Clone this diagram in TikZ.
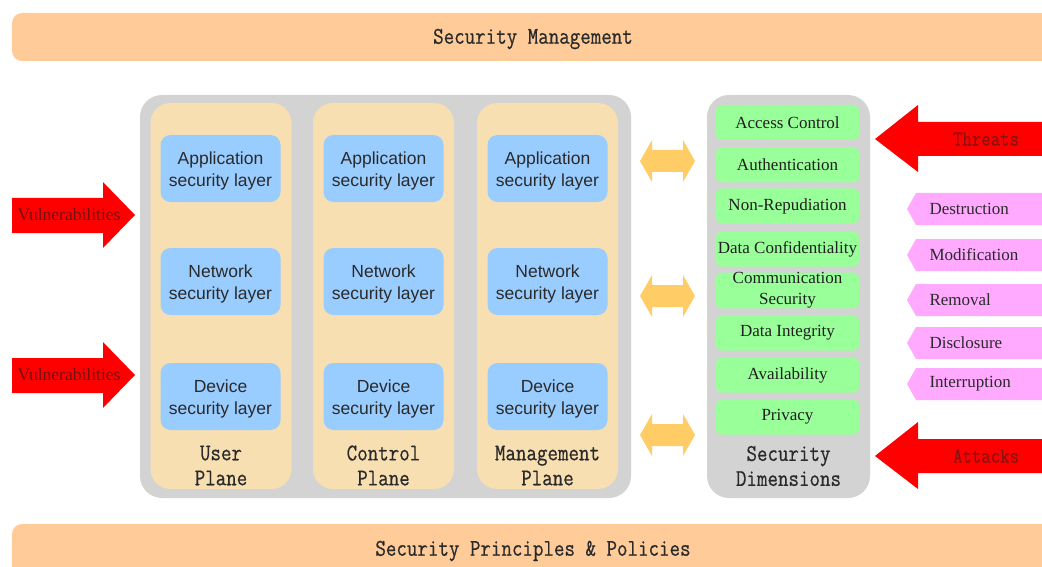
\documentclass[tikz,border=0pt]{standalone}
\usepackage{fontspec}
\setmainfont{Liberation Serif}
\newfontfamily\monofont[FakeStretch=0.85,FakeBold=0.6]{Latin Modern Mono}
\newfontfamily\armsans{Liberation Sans}
\usetikzlibrary{positioning}

\definecolor{barc}{HTML}{FFCC99}
\definecolor{panelgrey}{HTML}{D3D3D3}
\definecolor{planetan}{HTML}{F7DFB2}
\definecolor{layerblue}{HTML}{99CCFF}
\definecolor{dimgreen}{HTML}{99FF99}
\definecolor{threatpink}{HTML}{FFAAFF}
\definecolor{linkorange}{HTML}{FFCC66}
\definecolor{alertred}{HTML}{FF0000}
\definecolor{darkred}{HTML}{8B1010}
\definecolor{inkgrey}{HTML}{2A2A2A}

\tikzset{
  bar/.style={fill=barc, rounded corners=10pt, minimum height=48pt},
  bartext/.style={text=inkgrey, font=\monofont\fontsize{24}{28}\selectfont},
  panel/.style={fill=panelgrey, rounded corners=22pt},
  plane/.style={fill=planetan, rounded corners=20pt, minimum width=141pt, minimum height=386pt},
  layer/.style={fill=layerblue, rounded corners=10pt, minimum width=120pt, minimum height=67pt},
  layertext/.style={align=center, text=inkgrey, font=\armsans\fontsize{17.5}{22}\selectfont, inner sep=0pt},
  dim/.style={fill=dimgreen, rounded corners=6pt, minimum width=143pt, minimum height=35pt,
    align=center, text=black!88, font=\fontsize{17}{21}\selectfont, inner sep=0pt},
  planelabel/.style={align=center, text=inkgrey, font=\monofont\fontsize{24}{25}\selectfont},
  redarrow/.style={fill=alertred},
  arrowtext/.style={text=darkred, font=\monofont\fontsize{21.5}{22}\selectfont},
  vulntext/.style={text=darkred!85!black, font=\fontsize{17.5}{20}\selectfont},
  tag/.style={fill=threatpink},
  tagtext/.style={anchor=west, text=inkgrey, font=\fontsize{17}{20}\selectfont},
  link/.style={fill=linkorange}
}

\begin{document}
\begin{tikzpicture}[x=1pt,y=-1pt]
\useasboundingbox (0,0) rectangle (1042,567);

% management and policy bars
\node[bar, minimum width=1042pt] (mgmt) at (533,37) {};
\node[bartext] (mgmttext) at (533,39) {Security Management};
\node[bar, minimum width=1042pt, minimum height=56pt] (policy) at (533,552) {};
\node[bartext] (policytext) at (533,551) {Security Principles \& Policies};

% planes and their layers
\node[panel, minimum width=491pt, minimum height=403pt] (planes) at (385.5,296.5) {};
\node[plane] (user) at (221,296) {};
\node[plane] (control) at (383.5,296) {};
\node[plane] (manage) at (547.5,296) {};

\foreach \p/\x in {u/220.5, c/383.5, m/547.5}{
  \node[layer] (\p app) at (\x,168.5) {};
  \node[layertext] at ([yshift=-2pt]\p app.center) {Application\\security layer};
  \node[layer] (\p net) at (\x,281.5) {};
  \node[layertext] at ([yshift=-2pt]\p net.center) {Network\\security layer};
  \node[layer] (\p dev) at (\x,396.5) {};
  \node[layertext] at ([yshift=-2pt]\p dev.center) {Device\\security layer};
}
\node[planelabel] (userlbl) at (221,465.5) {User\\Plane};
\node[planelabel] (controllbl) at (383.5,465.5) {Control\\Plane};
\node[planelabel] (managelbl) at (547.5,465.5) {Management\\Plane};

% security dimensions
\node[panel, minimum width=163pt, minimum height=403pt] (dims) at (788.5,296.5) {};
\node[dim] (d1) at (787.5,122.5) {Access Control};
\node[dim] (d2) at (787.5,165) {Authentication};
\node[dim] (d3) at (787.5,206) {Non-Repudiation};
\node[dim] (d4) at (787.5,249) {Data Confidentiality};
\node[dim] (d5) at (787.5,290.5) {Communication\\Security};
\node[dim] (d6) at (787.5,333) {Data Integrity};
\node[dim] (d7) at (787.5,375) {Availability};
\node[dim] (d8) at (787.5,417) {Privacy};
\node[planelabel] (dimslbl) at (788.5,466) {Security\\Dimensions};

% two-way links between planes and dimensions
\foreach \c in {161,296,435}{
  \fill[link] (640,\c) -- (652,\c-21) -- (652,\c-11) -- (683,\c-11) -- (683,\c-21)
    -- (695,\c) -- (683,\c+21) -- (683,\c+11) -- (652,\c+11) -- (652,\c+21) -- cycle;
}

% vulnerabilities entering from the left
\foreach \c/\n in {215/v1,375/v2}{
  \fill[redarrow] (12,\c-17) -- (103,\c-17) -- (103,\c-33) -- (135,\c) -- (103,\c+33)
    -- (103,\c+18) -- (12,\c+18) -- cycle;
  \node[vulntext] (\n) at (69,\c) {Vulnerabilities};
}

% threats and attacks from the right
\foreach \c/\n/\t in {139/threats/Threats,456/attacks/Attacks}{
  \fill[redarrow] (1050,\c-17) -- (918,\c-17) -- (918,\c-34) -- (875,\c) -- (918,\c+33)
    -- (918,\c+17) -- (1050,\c+17) -- cycle;
  \node[arrowtext] (\n) at (986,\c) {\t};
}

% threat types
\foreach \c/\n/\t in {209/t1/Destruction,255/t2/Modification,300/t3/Removal,343/t4/Disclosure,384/t5/Interruption}{
  \fill[tag] (1050,\c-16) -- (916,\c-16) -- (907,\c) -- (916,\c+16) -- (1050,\c+16) -- cycle;
  \node[tagtext] (\n) at (926,\c) {\t};
}
\end{tikzpicture}
\end{document}
